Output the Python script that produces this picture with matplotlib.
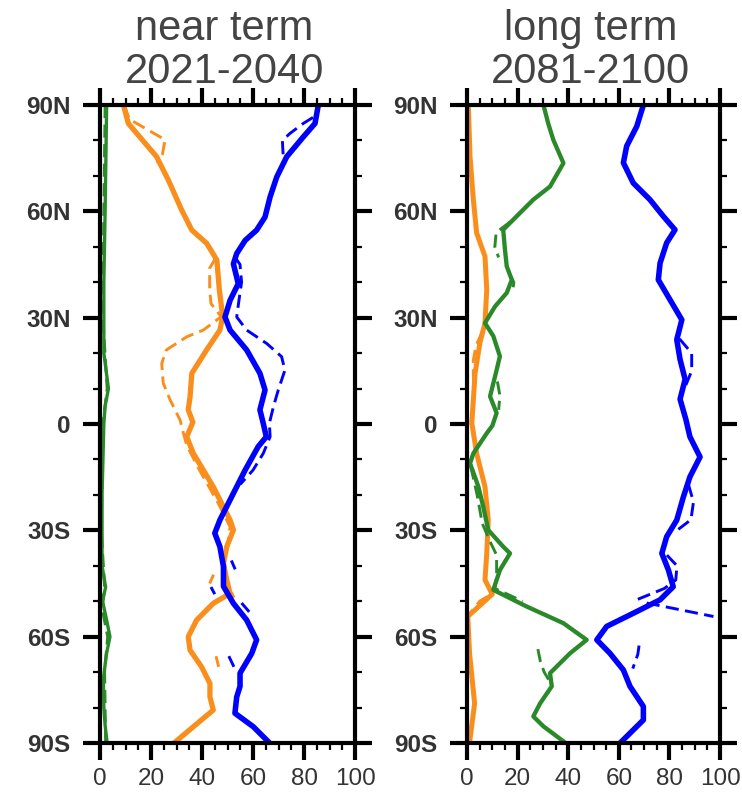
import numpy as np
import matplotlib
matplotlib.use('Agg')
import matplotlib.pyplot as plt
from matplotlib.ticker import MultipleLocator

nan = np.nan

# ---- near term 2021-2040 (left panel) ----
near_orange_lat = [90, 84.8, 82, 75.4, 68.8, 60.4, 54.7, 51, 46.3, 37.8, 30.3, 26.5, 20.9, 14.3, 7.7, 4, 0.5,
                   -3.6, -8.3, -13, -17.7, -22.4, -27.1, -29.9, -34.6, -39.3, -44, -47.8, -50.6, -55.3, -60,
                   -63.8, -68.5, -73.2, -77, -80.7, -85.4, -90]
near_orange = [9.2, 11.1, 14.4, 22.2, 26.8, 32, 36, 41.8, 45.8, 46.8, 48.1, 47, 41.8, 36, 35.3, 34.6, 36.4,
               34, 36.6, 40.5, 44.4, 47.7, 51, 52.3, 49.7, 48.4, 49.7, 51, 44.4, 37.9, 34.6,
               35.3, 39.8, 43.1, 43.1, 44.4, 36.6, 29]
near_orange_d_lat = [90, 86, 84.8, 80.2, 76.2, 73.5, nan,
                     47, 44, 38, 34, 30.3, 26.5, 24.6, 20.9, 17.1, 11.5, 6.8, 1.1, -2.6, -6, -13, -22.4, -29,
                     -36.5, -40, nan, -42.5, -45, nan, -47.5, -49, nan, -65.5, -68.5]
near_orange_d = [9.5, 11.5, 14.4, 25.5, 24.5, 22.5, nan,
                 45.5, 43, 43, 43.5, 47.5, 40.5, 34, 26, 24.2, 24.8, 27.5, 31.4, 32.7, 34, 39, 46.4, 51,
                 49.7, 48, nan, 44.5, 43, nan, 51.5, 52.5, nan, 45.5, 46.5]

near_blue_lat = [90, 84.8, 81, 75.4, 69.7, 64.1, 58.4, 54.7, 51.8, 48.1, 45.2, 39.6, 34.9, 30.2, 26.5, 20.9,
                 14.3, 9.6, 4, 0.2, -3.6, -6.4, -13, -17.7, -22.4, -27.1, -30.8, -34.6, -40.2, -45.8, -50.6,
                 -55.3, -60.9, -64.7, -70.3, -74, -77, -81.6, -85.4, -90]
near_blue = [85.6, 84.3, 79.7, 73.2, 69.3, 66.7, 64.7, 61.4, 56.9, 53.6, 52.3, 54.2, 51, 49, 51, 57.5,
             62.7, 64.7, 62.7, 64, 65.2, 62, 56.9, 53.6, 50.3, 47, 45, 47, 48.4, 48.4, 52.3,
             57.5, 61.4, 59.5, 54.9, 54.9, 53.6, 52.9, 60.1, 66.5]
near_blue_d_lat = [86.5, 84.8, 82, 80, 76, 74, nan,
                   47, 45, 40, 35, 30.2, 26.5, 22.7, 19, 15.2, 9.6, 4.9, 0.2, -3.6, -8.3, -13, -17, nan,
                   -38.5, -41, nan, -46, -48, nan, -50.5, -53, nan, -65.5, -68.5]
near_blue_d = [83.5, 79.7, 74.5, 71.5, 71.8, 72.5, nan,
               53, 54.9, 55.5, 54.5, 53.6, 57.5, 65.4, 71.2, 72.5, 69.9, 68, 66.4, 66.7, 64, 60, 55, nan,
               51.5, 53, nan, 43.5, 45, nan, 55.5, 58.5, nan, 50.5, 52.5]

near_green_lat = [90, 75, 60, 40, 20, 10, 5, 0, -20, -40, -46, -50, -55, -60, -65, -72, -80, -85, -90]
near_green = [2.6, 2.3, 2, 1.5, 1.5, 3.3, 2, 1.5, 0.8, 0.8, 2.2, 1, 2.5, 3.9, 2.5, 1.3, 1.5, 2, 2.8]
near_green_d_lat = [90, 60, 30, 10, 0, -30, -46, -52, -60, -70, -90]
near_green_d = [2.0, 1.5, 1.1, 2.8, 1.1, 0.5, 1.8, 0.8, 3.0, 1.8, 2.2]

# ---- long term 2081-2100 (right panel) ----
long_orange_lat = [90, 75.4, 63.3, 53.9, 47.3, 37.9, 28.5, 22.9, 14.4, 0.3, -8.3, -17.7, -27.1, -36.5, -44,
                   -48, -54.3, -64.7, -78.8, -90]
long_orange = [0.5, 1.2, 2.5, 3.8, 7.1, 7.8, 7.1, 5.1, 3.2, 1.9, 3.8, 7.1, 8.4, 7.8, 7.1,
               10, 0.3, 1, 3, 1]
long_orange_d_lat = [26, 22, 18, 14, 10, nan, -44, -48, -50, -54]
long_orange_d = [6, 3.5, 2.5, 2.5, 2.8, nan, 7.5, 9.5, 5, 0.5]

long_green_lat = [90, 84.8, 80.2, 73.6, 67, 63.3, 58.6, 54.8, 49.2, 44.5, 40.7, 37, 33.2, 28.5, 24.8, 19.1,
                  13.5, 7.8, 3.1, -0.5, -2.6, -8.3, -11.1, -17.7, -23.3, -29.9, -34.6, -36.5, -41.2, -46.8,
                  -51.5, -56.2, -60.9, -64.7, -70.3, -74, -78.8, -82.5, -85.3, -90]
long_green = [30.2, 32.1, 34.1, 38.1, 32.8, 26.2, 19.6, 14.3, 15, 15.7, 17.7, 15.7, 11.1, 7.1, 10.4, 13,
              11.1, 9.1, 11.7, 10, 7.8, 2.5, 1.2, 4.5, 6.4, 8.4, 14.3, 17, 13, 10.4,
              23.6, 38.1, 47.3, 40.7, 32.8, 33.5, 28.9, 26.2, 30.2, 39]
long_green_d_lat = [57, 54, 50, 47, nan, 42, 40, 37, nan, 12, 8, 4, nan,
                    -12, -20, -28, -33, -37, -43, -46.4, -50, nan, -63.5, -67, -70, -73]
long_green_d = [17, 11.5, 11, 12.5, nan, 17, 18.5, 18, nan, 12, 13, 12.5, nan,
                1.5, 4, 6, 9, 11.7, 11.7, 11, 22, nan, 28, 29, 30.5, 33]

long_blue_lat = [90, 84, 78.4, 73.7, 68, 63.3, 58.6, 54.8, 51.1, 45.4, 40.7, 35.1, 29.4, 23.8, 18.2, 12.6,
                 7, 1.3, -3.6, -9.3, -14.9, -20.6, -27.1, -31.8, -36.5, -41.2, -45.9, -49.6, -53.4, -57.1,
                 -60.9, -64.7, -69.4, -74, -79.7, -83.5, -90]
long_blue = [69.7, 67.1, 63.1, 61.8, 65.7, 72.3, 77.6, 82.2, 78.9, 76.3, 75.6, 80.2, 84.9, 82.9, 84.2, 86.2,
             84.2, 86.5, 88.1, 92.1, 88.1, 85.5, 82.9, 78.9, 77, 79.6, 81.5, 76.3, 65.7, 55.2,
             51.3, 56.5, 61.8, 64.4, 69.7, 69.7, 60.5]
long_blue_d_lat = [24, 20, 15, 11, nan, -17, -22, -27, -30, nan, -37, -40, -44, -46.4, -49.6, nan,
                   -50.5, -54.3, nan, -62.5, -65, -69]
long_blue_d = [84, 88.8, 88.8, 86.5, nan, 87.5, 89.5, 88.5, 83, nan, 79, 83, 82.5, 78, 67, nan,
               71, 97.4, nan, 68, 67.5, 65.5]

titles = ['near term\n2021-2040', 'long term\n2081-2100']
lat_ticks = [-90, -60, -30, 0, 30, 60, 90]
lat_labels = ['90S', '60S', '30S', '0', '30N', '60N', '90N']

ORANGE = '#f98e1d'
BLUE = '#0000ff'
GREEN = '#2a8a2a'

fig = plt.figure(figsize=(7.42, 7.95), dpi=100)
ax1 = fig.add_axes([0.1348, 0.0654, 0.3437, 0.8025])
ax2 = fig.add_axes([0.6294, 0.0654, 0.341, 0.8025])

panels = [
    (ax1, [(near_orange_lat, near_orange, near_orange_d_lat, near_orange_d, ORANGE, 3.8),
           (near_green_lat, near_green, near_green_d_lat, near_green_d, GREEN, 2.4),
           (near_blue_lat, near_blue, near_blue_d_lat, near_blue_d, BLUE, 4.0)]),
    (ax2, [(long_orange_lat, long_orange, long_orange_d_lat, long_orange_d, ORANGE, 3.6),
           (long_green_lat, long_green, long_green_d_lat, long_green_d, GREEN, 3.1),
           (long_blue_lat, long_blue, long_blue_d_lat, long_blue_d, BLUE, 4.0)]),
]

for (ax, series), title in zip(panels, titles):
    for lat, val, dlat, dval, col, lw in series:
        ax.plot(dval, dlat, color=col, lw=2.1, dashes=(4.5, 2.2), solid_capstyle='butt')
        ax.plot(val, lat, color=col, lw=lw, solid_joinstyle='round')

    ax.set_xlim(0, 100)
    ax.set_ylim(-90, 90)
    ax.set_xticks([0, 20, 40, 60, 80, 100])
    ax.xaxis.set_minor_locator(MultipleLocator(5))
    ax.set_yticks(lat_ticks)
    ax.set_yticklabels(lat_labels)
    ax.yaxis.set_minor_locator(MultipleLocator(10))
    for s in ax.spines.values():
        s.set_linewidth(3.0)
    ax.tick_params(which='both', direction='out', top=True, right=True)
    ax.tick_params(which='major', length=12, width=3.0, colors='black')
    ax.tick_params(which='minor', length=5, width=1.6, colors='black')
    ax.tick_params(axis='y', which='major', pad=9, labelsize=17.5, labelcolor='#333333')
    ax.tick_params(axis='x', which='major', pad=6, labelsize=17.5, labelcolor='#333333')
    for lbl in ax.get_yticklabels():
        lbl.set_fontfamily('Liberation Sans')
        lbl.set_fontweight('bold')
    for lbl in ax.get_xticklabels():
        lbl.set_fontfamily('Liberation Sans')

    pos = ax.get_position()
    xc = pos.x0 + pos.width / 2 - 0.004
    line1, line2 = title.split('\n')
    fig.text(xc, 1 - 40 / 795, line1, ha='center', va='baseline', fontsize=30,
             family='Liberation Sans', color='#444444')
    fig.text(xc, 1 - 83 / 795, line2, ha='center', va='baseline', fontsize=30,
             family='Liberation Sans', color='#444444')

fig.savefig('out.png', dpi=100)
